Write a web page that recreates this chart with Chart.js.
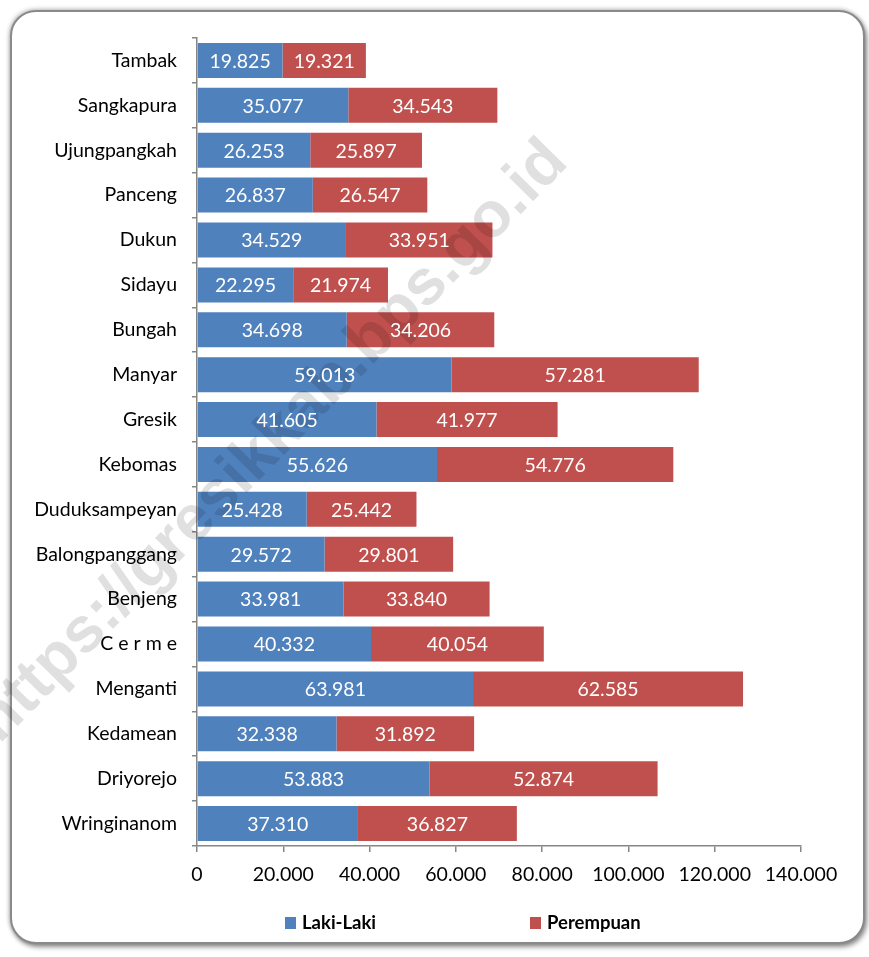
<!DOCTYPE html>
<html>
<head>
<meta charset="utf-8">
<script src="https://cdn.jsdelivr.net/npm/chart.js@4.4.1/dist/chart.umd.min.js"></script>
<style>
    html, body { margin: 0; padding: 0; background: #fff; }
    #wrap { position: relative; width: 869px; height: 957px; overflow: hidden; }
    #frame {
        position: absolute; left: 10px; top: 10px; width: 851px; height: 930px;
        border: 2.5px solid #8a8a8a; border-radius: 26px;
        box-shadow: 2px 3px 5px rgba(0, 0, 0, 0.45), -1px -1px 4px rgba(0, 0, 0, 0.25);
        background: #fff;
    }
    #popChart { position: absolute; left: 0; top: 0; }
</style>
</head>
<body>
<div id="wrap">
    <div id="frame"></div>
    <canvas id="popChart" width="869" height="957"></canvas>
</div>
<script>
// Penduduk per kecamatan, Kabupaten Gresik

const kecamatan = [
    'Tambak', 'Sangkapura', 'Ujungpangkah', 'Panceng', 'Dukun', 'Sidayu',
    'Bungah', 'Manyar', 'Gresik', 'Kebomas', 'Duduksampeyan', 'Balongpanggang',
    'Benjeng', 'C e r m e', 'Menganti', 'Kedamean', 'Driyorejo', 'Wringinanom'
];
const lakiLaki = [
    19825, 35077, 26253, 26837, 34529, 22295,
    34698, 59013, 41605, 55626, 25428, 29572,
    33981, 40332, 63981, 32338, 53883, 37310
];
const perempuan = [
    19321, 34543, 25897, 26547, 33951, 21974,
    34206, 57281, 41977, 54776, 25442, 29801,
    33840, 40054, 62585, 31892, 52874, 36827
];
const seriesNames = ['Laki-Laki', 'Perempuan'];
const xTicks = [0, 20000, 40000, 60000, 80000, 100000, 120000, 140000];
const watermarkText = 'https://gresikkab.bps.go.id';

const FONT = 'Lato, "Open Sans", sans-serif';

function fmt(v) {
    return String(v).replace(/\B(?=(\d{3})+(?!\d))/g, '.');
}

// value labels inside each segment
const segmentLabels = {
    id: 'segmentLabels',
    afterDraw(chart) {
        const ctx = chart.ctx;
        ctx.save();
        ctx.fillStyle = '#fff';
        ctx.font = '19.5px ' + FONT;
        ctx.textAlign = 'center';
        ctx.textBaseline = 'middle';
        chart.data.datasets.forEach((ds, i) => {
            chart.getDatasetMeta(i).data.forEach((bar, j) => {
                const p = bar.getProps(['x', 'y', 'base'], true);
                ctx.fillText(fmt(ds.data[j]), (p.x + p.base) / 2, p.y + 1);
            });
        });
        ctx.restore();
    }
};

// faint diagonal site watermark
const watermark = {
    id: 'watermark',
    afterDatasetsDraw(chart) {
        const ctx = chart.ctx;
        ctx.save();
        ctx.translate(272, 442);
        ctx.rotate(-45.5 * Math.PI / 180);
        ctx.font = 'bold 64px "Liberation Sans", Arial, sans-serif';
        ctx.fillStyle = 'rgba(0, 0, 0, 0.12)';
        ctx.textAlign = 'center';
        ctx.textBaseline = 'middle';
        ctx.fillText(watermarkText, 0, 0);
        ctx.restore();
    }
};

// legend at the bottom, drawn by hand for the wide spacing
const bottomLegend = {
    id: 'bottomLegend',
    afterDraw(chart) {
        const ctx = chart.ctx;
        const xs = [285, 530];
        ctx.save();
        ctx.font = 'bold 18.5px ' + FONT;
        ctx.textBaseline = 'middle';
        ctx.textAlign = 'left';
        chart.data.datasets.forEach((ds, i) => {
            ctx.fillStyle = ds.backgroundColor;
            ctx.fillRect(xs[i], 917, 11, 12);
            ctx.fillStyle = '#000';
            ctx.fillText(ds.label, xs[i] + 17, 923);
        });
        ctx.restore();
    }
};

const ctx = document.getElementById('popChart').getContext('2d');

new Chart(ctx, {
    type: 'bar',
    data: {
        labels: kecamatan,
        datasets: [{
            label: seriesNames[0],
            data: lakiLaki,
            backgroundColor: '#4F81BD',
            borderWidth: 0,
            barPercentage: 0.78,
            categoryPercentage: 1
        }, {
            label: seriesNames[1],
            data: perempuan,
            backgroundColor: '#C0504D',
            borderWidth: 0,
            barPercentage: 0.78,
            categoryPercentage: 1
        }]
    },
    options: {
        indexAxis: 'y',
        responsive: false,
        animation: false,
        devicePixelRatio: 1,
        layout: {
            padding: { top: 38, left: 0, right: 68, bottom: 61 }
        },
        plugins: {
            legend: { display: false },
            tooltip: { enabled: false }
        },
        scales: {
            x: {
                stacked: true,
                min: 0,
                max: 140000,
                afterFit: (scale) => { scale.height = 50; },
                afterBuildTicks: (scale) => {
                    scale.ticks = xTicks.map(v => ({ value: v }));
                },
                border: { color: '#868686', width: 1.5 },
                grid: {
                    drawOnChartArea: false,
                    drawTicks: true,
                    tickLength: 6,
                    color: '#868686',
                    lineWidth: 1.5
                },
                ticks: {
                    color: '#000',
                    padding: 11,
                    maxRotation: 0,
                    font: { family: FONT, size: 19.5 },
                    callback: (value) => fmt(value)
                }
            },
            y: {
                stacked: true,
                afterFit: (scale) => { scale.width = 197; },
                border: { color: '#868686', width: 1.5 },
                grid: {
                    drawOnChartArea: false,
                    drawTicks: true,
                    tickLength: 5,
                    color: '#868686',
                    lineWidth: 1.5
                },
                ticks: {
                    color: '#000',
                    padding: 15,
                    font: { family: FONT, size: 19.5 }
                }
            }
        }
    },
    plugins: [watermark, segmentLabels, bottomLegend]
});
</script>
</body>
</html>
